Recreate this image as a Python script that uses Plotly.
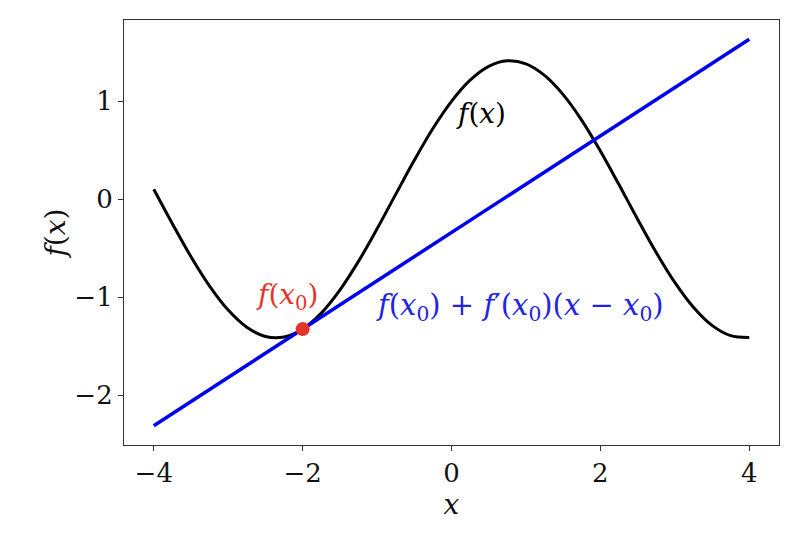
import plotly.graph_objects as go

# curve samples f(x)
curve_x = [-4.0, -3.75, -3.5, -3.25, -3.0, -2.75, -2.5, -2.25, -2.0, -1.75, -1.5, -1.25,
           -1.0, -0.75, -0.5, -0.25, 0.0, 0.25, 0.5, 0.75, 1.0, 1.25, 1.5, 1.75,
           2.0, 2.25, 2.5, 2.75, 3.0, 3.25, 3.5, 3.75, 4.0]
curve_y = [0.103, -0.249, -0.586, -0.886, -1.131, -1.306, -1.400, -1.406, -1.325, -1.162,
           -0.927, -0.634, -0.301, 0.050, 0.398, 0.722, 1.000, 1.216, 1.357, 1.413,
           1.382, 1.264, 1.068, 0.806, 0.493, 0.150, -0.203, -0.543, -0.849, -1.102,
           -1.287, -1.392, -1.410]

# tangent line endpoints
tangent_x = [-4.0, 4.0]
tangent_y = [-2.311, 1.633]

# point x0
point_x = [-2.0]
point_y = [-1.325]

x_ticks = [-4, -2, 0, 2, 4]
y_ticks = [-2, -1, 0, 1]

FONT = "DejaVu Serif"

fig = go.Figure()
fig.add_trace(go.Scatter(x=curve_x, y=curve_y, mode="lines",
                         line=dict(color="black", width=3, shape="spline"),
                         showlegend=False, hoverinfo="skip"))
fig.add_trace(go.Scatter(x=tangent_x, y=tangent_y, mode="lines",
                         line=dict(color="#0000ee", width=3.5),
                         showlegend=False, hoverinfo="skip"))
fig.add_trace(go.Scatter(x=point_x, y=point_y, mode="markers",
                         marker=dict(color="#e5352b", size=14),
                         showlegend=False, hoverinfo="skip"))

fig.add_annotation(x=0.4, y=0.88, text="<i>f</i>(<i>x</i>)", showarrow=False,
                   font=dict(family=FONT, size=28, color="black"))
fig.add_annotation(x=-2.2, y=-0.99, text="<i>f</i>(<i>x</i><sub>0</sub>)", showarrow=False,
                   font=dict(family=FONT, size=28, color="#e5352b"))
fig.add_annotation(x=0.92, y=-1.1,
                   text="<i>f</i>(<i>x</i><sub>0</sub>) + <i>f</i>′(<i>x</i><sub>0</sub>)(<i>x</i> − <i>x</i><sub>0</sub>)",
                   showarrow=False, font=dict(family=FONT, size=29, color="#2424e0"))

axis_common = dict(showline=True, linecolor="#333333", linewidth=1.2, mirror=True,
                   ticks="outside", ticklen=5, tickcolor="#333333", tickwidth=1,
                   showgrid=False, zeroline=False,
                   tickfont=dict(family=FONT, size=26, color="#111111"))

fig.update_xaxes(range=[-4.4, 4.4], tickvals=x_ticks,
                 title=dict(text="<i>x</i>", font=dict(family=FONT, size=28, color="#111111"), standoff=0),
                 **axis_common)
fig.update_yaxes(range=[-2.508, 1.830], tickvals=y_ticks,
                 title=dict(text="<i>f</i>(<i>x</i>)", font=dict(family=FONT, size=28, color="#111111"), standoff=0),
                 **axis_common)

fig.update_layout(width=796, height=532, margin=dict(l=116, r=25, t=12, b=95),
                  plot_bgcolor="white", paper_bgcolor="white")

fig.write_html("out.html")
